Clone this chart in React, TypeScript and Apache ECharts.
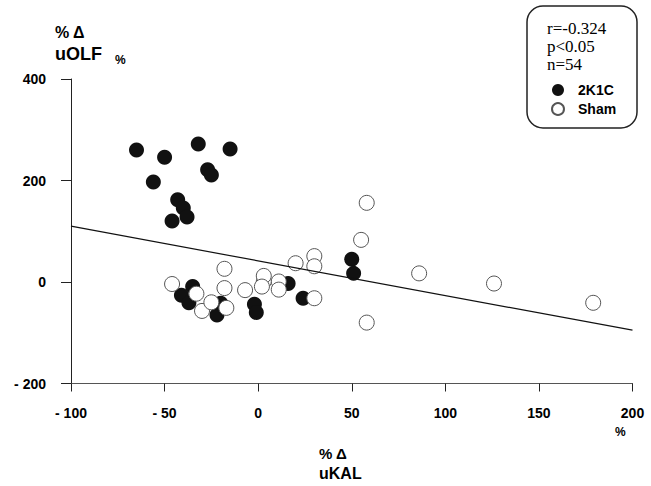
import React, { useEffect, useRef } from "react";
import * as echarts from "echarts";

// 2K1C (filled) points: [% change uKAL, % change uOLF]
const group2K1C: [number, number][] = [
  [-65, 260], [-50, 246], [-32, 272], [-15, 262], [-27, 221], [-25, 211],
  [-56, 197], [-43, 162], [-40, 146], [-38, 128], [-46, 120],
  [50, 45], [51, 17], [24, -32], [16, -3],
  [-35, -9], [-41, -26], [-37, -41], [-22, -65], [-20, -42],
  [-2, -44], [-1, -60],
];

// Sham (open) points
const groupSham: [number, number][] = [
  [-46, -4], [-33, -23], [-30, -57], [-25, -40], [-17, -51], [-18, 26],
  [-18, -12], [-7, -16], [30, 51], [30, 31], [20, 37], [11, 1], [3, 1],
  [3, 12], [2, -9], [11, -15], [30, -32], [58, 156], [55, 83], [86, 17],
  [126, -3], [179, -41], [58, -80],
];

// Regression line end points
const regressionLine: [number, number][] = [
  [-100, 110],
  [200, -95],
];

const statsLines = ["r=-0.324", "p<0.05", "n=54"];
const seriesNames = ["2K1C", "Sham"];

const xRange = { min: -100, max: 200, interval: 50 };
const yRange = { min: -200, max: 400, interval: 200 };

const fmt = (v: number) => (v < 0 ? "- " + Math.abs(v) : String(v));

export default function App() {
  const ref = useRef<HTMLDivElement>(null);

  useEffect(() => {
    if (!ref.current) return;
    const chart = echarts.init(ref.current, undefined, { renderer: "svg" });
    const sans = "'Liberation Sans', Arial, sans-serif";
    const serif = "'Liberation Serif', 'Times New Roman', serif";

    chart.setOption({
      animation: false,
      backgroundColor: "#ffffff",
      grid: { left: 71, right: 18.5, top: 79, bottom: 102.5 },
      xAxis: {
        type: "value",
        min: xRange.min,
        max: xRange.max,
        interval: xRange.interval,
        axisLine: { onZero: false, lineStyle: { color: "#555", width: 1 } },
        axisTick: { show: true, inside: false, length: 8, lineStyle: { color: "#222", width: 1 } },
        axisLabel: {
          margin: 22,
          color: "#000",
          fontFamily: sans,
          fontWeight: "bold",
          fontSize: 14,
          formatter: fmt,
        },
        splitLine: { show: false },
      },
      yAxis: {
        type: "value",
        min: yRange.min,
        max: yRange.max,
        interval: yRange.interval,
        axisLine: { show: true, onZero: false, lineStyle: { color: "#222", width: 1 } },
        axisTick: { show: true, inside: false, length: 10, lineStyle: { color: "#222", width: 1 } },
        axisLabel: {
          margin: 25,
          color: "#000",
          fontFamily: sans,
          fontWeight: "bold",
          fontSize: 14,
          formatter: fmt,
        },
        splitLine: { show: false },
      },
      legend: {
        data: seriesNames,
        orient: "vertical",
        left: 546,
        top: 78,
        itemWidth: 12,
        itemHeight: 12,
        itemGap: 5,
        icon: "circle",
        textStyle: {
          fontFamily: sans,
          fontWeight: "bold",
          fontSize: 14,
          color: "#000",
          padding: [0, 0, 0, 9],
          lineHeight: 14,
        },
      },
      series: [
        {
          name: seriesNames[0],
          type: "scatter",
          data: group2K1C,
          symbol: "circle",
          symbolSize: 15,
          itemStyle: { color: "#111", opacity: 1 },
          z: 2,
        },
        {
          name: seriesNames[1],
          type: "scatter",
          data: groupSham,
          symbol: "circle",
          symbolSize: 15,
          itemStyle: { color: "#fff", borderColor: "#555", borderWidth: 1, opacity: 1 },
          z: 3,
        },
        {
          name: "fit",
          type: "line",
          data: regressionLine,
          symbol: "none",
          lineStyle: { color: "#111", width: 1.2 },
          z: 4,
          silent: true,
        },
      ],
      graphic: [
        {
          type: "rect",
          shape: { x: 527, y: 6, width: 110, height: 122, r: 16 },
          style: { fill: "none", stroke: "#222", lineWidth: 1.5 },
          z: 10,
        },
        ...statsLines.map((t, i) => ({
          type: "text",
          x: 547,
          y: 28 + i * 18,
          style: {
            text: t,
            fontFamily: serif,
            fontSize: 17,
            fill: "#000",
            verticalAlign: "middle",
          },
          z: 10,
        })),
        {
          type: "text",
          x: 55,
          y: 32,
          style: { text: "% Δ", fontFamily: sans, fontSize: 16, fontWeight: "bold", fill: "#000", verticalAlign: "middle" },
        },
        {
          type: "text",
          x: 55,
          y: 54,
          style: { text: "uOLF", fontFamily: sans, fontSize: 18, fontWeight: "bold", fill: "#000", verticalAlign: "middle" },
        },
        {
          type: "text",
          x: 115,
          y: 60,
          style: { text: "%", fontFamily: sans, fontSize: 12, fontWeight: "bold", fill: "#000", verticalAlign: "middle" },
        },
        {
          type: "text",
          x: 319,
          y: 453,
          style: { text: "% Δ", fontFamily: sans, fontSize: 15, fontWeight: "bold", fill: "#000", verticalAlign: "middle" },
        },
        {
          type: "text",
          x: 319,
          y: 473,
          style: { text: "uKAL", fontFamily: sans, fontSize: 16, fontWeight: "bold", fill: "#000", verticalAlign: "middle" },
        },
        {
          type: "text",
          x: 615,
          y: 432,
          style: { text: "%", fontFamily: sans, fontSize: 12, fontWeight: "bold", fill: "#000", verticalAlign: "middle" },
        },
      ],
    });

    return () => chart.dispose();
  }, []);

  return <div ref={ref} style={{ width: 651, height: 486, position: "absolute", left: 0, top: 0 }} />;
}
